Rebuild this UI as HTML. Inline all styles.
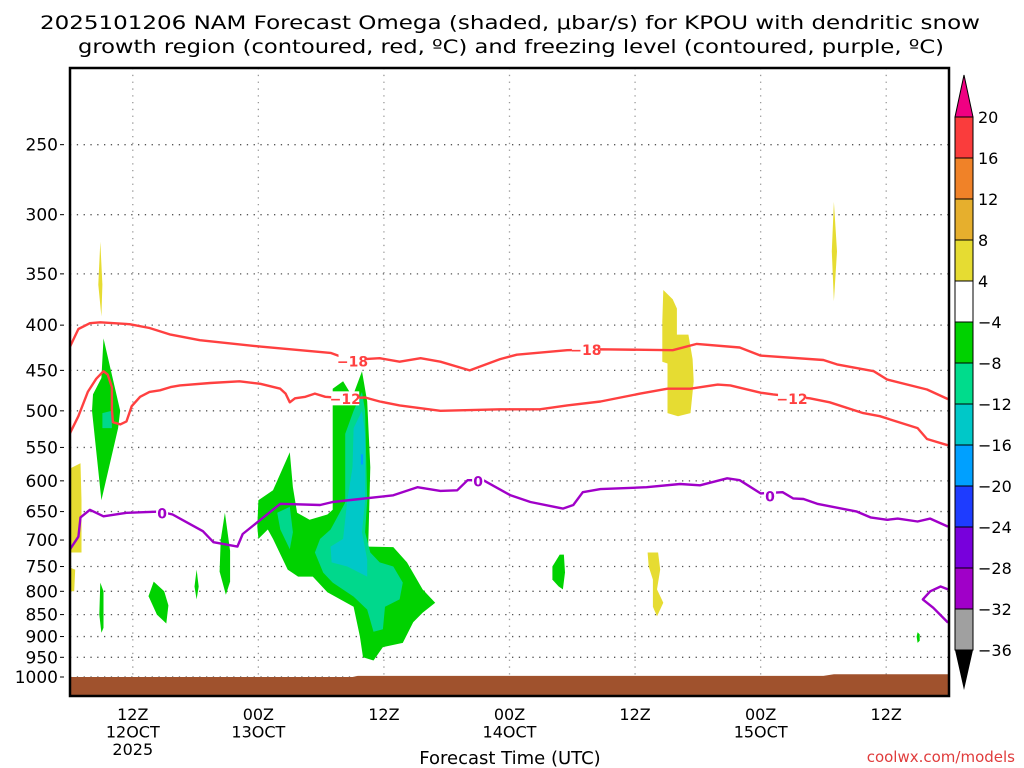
<!DOCTYPE html>
<html><head><meta charset="utf-8"><title>NAM Omega KPOU</title>
<style>html,body{margin:0;padding:0;background:#fff;}svg{display:block;}text{font-family:"DejaVu Sans","Liberation Sans",sans-serif;}</style>
</head><body>
<svg id="chart" xmlns="http://www.w3.org/2000/svg" width="1024" height="768" viewBox="0 0 1024 768">
<rect x="0" y="0" width="1024" height="768" fill="#fff"/>
<text x="510" y="29" font-size="19" text-anchor="middle" textLength="940" lengthAdjust="spacingAndGlyphs">2025101206 NAM Forecast Omega (shaded, μbar/s) for KPOU with dendritic snow</text>
<text x="511" y="53" font-size="19" text-anchor="middle" textLength="866" lengthAdjust="spacingAndGlyphs">growth region (contoured, red, ºC) and freezing level (contoured, purple, ºC)</text>
<g id="grid"></g>
<g id="ground"></g>
<g id="shading"></g>
<g id="contours"></g>
<g id="labels"></g>
<rect x="70" y="68" width="879" height="628" fill="none" stroke="#000" stroke-width="2.5"/>
<g id="yticks"></g>
<g id="xticks"></g>
<text x="510" y="764" font-size="18" text-anchor="middle">Forecast Time (UTC)</text>
<text x="1015" y="762" font-size="15" text-anchor="end" fill="#e03c3c">coolwx.com/models</text>
<g id="colorbar"></g>
</svg>
<script>
// ---- axis data ----
const pressureTicks = [250,300,350,400,450,500,550,600,650,700,750,800,850,900,950,1000];
const timeTickHours = [6,18,30,42,54,66,78];
const timeTickLine1 = ["12Z","00Z","12Z","00Z","12Z","00Z","12Z"];
const timeTickLine2 = ["12OCT","13OCT","","14OCT","","15OCT",""];
const timeTickLine3 = ["2025","","","","","",""];
// ---- contour data [hour, hPa] ----
const contourMinus18 = [[0,423],[0.8,404],[1.9,398],[2.9,397],[5.7,399],[7.6,403],[9.6,410],[12.4,416],[18.2,423],[22,427],[24.9,430],[27.0,439],[28.2,437],[29.6,436],[31.5,440],[33.5,436],[35.4,440],[38.2,450],[41.1,437],[42.7,432],[47.5,427],[50.7,426],[57.6,427],[59.9,420],[64.0,424],[66.0,433],[72.0,438],[73.3,443],[76.8,451],[78.1,461],[81.9,473],[83.9,485]];
const contourMinus12 = [[0,530],[0.8,507],[1.7,476],[2.5,460],[3.2,451],[3.6,455],[4.0,470],[4.0,498],[4.1,515],[4.8,518],[5.4,514],[5.9,494],[6.7,482],[7.6,476],[8.6,474],[9.6,470],[10.5,468],[13.4,465],[16.2,463],[18.2,466],[20.1,472],[20.6,478],[21.0,489],[21.5,484],[22.5,482],[23.4,478],[24.4,482],[26.3,484],[28.2,483],[29.6,488],[31.5,493],[35.4,500],[41.1,498],[44.9,498],[47.5,493],[50.7,488],[54.5,478],[57.1,472],[59.3,472],[61.9,467],[63.1,468],[66.0,477],[67.2,479],[70.7,484],[72.6,489],[75.8,503],[77.4,507],[81.0,523],[81.9,538],[83.9,547]];
const contourZero = [[0,717],[0.8,694],[1.0,660],[1.9,647],[3.2,658],[5.4,652],[8.6,650],[9.8,655],[11.2,669],[12.7,684],[13.7,704],[16.0,712],[16.5,689],[18.2,664],[20.1,637],[23.9,639],[25.1,634],[27.7,629],[30.9,623],[33.2,610],[35.4,616],[37.0,615],[38.0,599],[39.5,599],[42.1,623],[44.0,634],[47.1,645],[48.1,639],[49.0,618],[50.7,613],[53.8,611],[55.1,610],[58.3,605],[60.2,607],[62.8,596],[64.0,599],[66.0,620],[68.1,618],[69.1,628],[70.1,629],[71.4,637],[75.2,650],[76.5,660],[78.1,664],[79.1,662],[81.0,667],[82.2,662],[83.9,676]];
const contourZeroLow = [[83.9,796],[83.2,790],[82.2,800],[81.5,817],[82.5,835],[83.9,868]];
const labelText = ["-18","-18","-12","-12","0","0","0"];
const labelHour = [27.0,49.3,26.3,69.0,8.8,39.0,66.9];
const labelPress = [439,426,484,484,652,600,624];
const labelColor = ["#ff4040","#ff4040","#ff4040","#ff4040","#a000c8","#a000c8","#a000c8"];
// ---- omega shaded regions [hour, hPa]; level = omega bin ----
const blobLevels = ["up4","up4","up4","up4","up4","up4","dn4","dn8","dn4","dn4","dn4","dn4","dn4","dn8","dn8","dn12","dn16","dn4","dn4"];
const blobShapes = [
 [[0,581],[1.0,573],[1.1,631],[1.1,723],[0,723]],
 [[0,752],[0.5,756],[0.4,800],[0,800]],
 [[2.9,322],[3.1,360],[3.0,391],[2.7,360]],
 [[56.7,365],[57.6,374],[58.0,383],[58.0,410],[59.1,410],[59.5,437],[59.6,463],[59.3,503],[58.1,507],[57.1,503],[57.1,442],[56.6,440],[56.6,396]],
 [[55.2,723],[56.2,723],[56.4,756],[56.1,796],[56.7,824],[56.1,854],[55.7,833],[55.7,776],[55.3,750]],
 [[73.0,290],[73.3,330],[73.0,376],[72.8,330]],
 [[3.2,414],[4.8,500],[4.6,523],[3.0,631],[2.1,500],[2.2,479],[3.0,459]],
 [[3.1,503],[4.0,500],[4.0,523],[3.1,523]],
 [[2.9,782],[3.2,800],[3.2,880],[3.0,891],[2.8,850]],
 [[8.0,780],[9.0,800],[9.4,830],[9.2,870],[8.3,850],[7.5,810]],
 [[12.1,756],[12.3,790],[12.1,817],[11.9,790]],
 [[14.8,652],[15.3,720],[15.3,780],[14.9,807],[14.3,760],[14.4,700]],
 [[18.0,631],[19.4,615],[21.0,557],[21.3,610],[21.7,652],[22.9,664],[24.6,655],[25.1,647],[25.1,472],[26.1,463],[27.0,482],[27.9,451],[28.4,488],[28.7,579],[28.5,712],[30.9,713],[32.2,742],[33.7,796],[34.9,824],[33.7,846],[32.8,867],[31.8,915],[29.9,925],[29.0,958],[28.0,950],[27.7,900],[27.1,833],[24.6,802],[23.2,770],[21.8,770],[20.8,756],[19.4,698],[18.9,681],[18.0,698],[17.9,676]],
 [[19.8,652],[21.0,642],[21.3,686],[21.0,717],[20.1,681]],
 [[26.3,531],[27.1,500],[27.9,476],[28.2,500],[28.4,631],[28.2,686],[28.7,723],[29.6,742],[30.9,750],[31.8,782],[31.5,817],[30.1,833],[29.9,883],[29.0,889],[28.4,839],[27.1,811],[25.1,782],[24.2,762],[23.4,723],[23.9,698],[24.9,681],[26.3,635],[26.3,588]],
 [[27.1,523],[27.9,500],[28.2,531],[28.2,631],[27.9,686],[28.4,737],[28.4,770],[26.5,750],[25.0,742],[24.9,712],[26.1,698],[26.5,631],[27.0,579]],
 [[27.8,560],[28.0,560],[28.0,575],[27.8,575]],
 [[46.8,727],[47.2,727],[47.3,762],[47.1,796],[46.7,790],[46.1,776],[46.1,750]],
 [[81.0,890],[81.2,895],[81.2,910],[81.0,915],[80.9,900]]
];
const surfaceHours = [0,27,27.5,72,73,84];
const surfacePress = [1000,1000,997,997,993,993];
// ---- colorbar ----
const cbLevels = ["20","16","12","8","4","-4","-8","-12","-16","-20","-24","-28","-32","-36"];
const cbColors = ["#fa3c3c","#f08228","#e6af2d","#e6dc32","#ffffff","#00d200","#00dc8c","#00c8c8","#00a0ff","#1e3cff","#7800dc","#a000c8","#a0a0a0"];
const binColors = {up4:"#e6dc32",dn4:"#00d200",dn8:"#00d88c",dn12:"#00c8c8",dn16:"#00a0ff"};

const NS="http://www.w3.org/2000/svg";
const X0=70, X1=949, HOURS=84, Y1000=677, K=384;
function X(h){return X0+h*(X1-X0)/HOURS;}
function Y(p){return Y1000-K*Math.log(1000/p);}
function mk(tag,attrs,parent){const e=document.createElementNS(NS,tag);for(const k in attrs)e.setAttribute(k,attrs[k]);parent.appendChild(e);return e;}
function pts(arr){return arr.map(d=>X(d[0]).toFixed(1)+","+Y(d[1]).toFixed(1)).join(" ");}

const grid=document.getElementById('grid');
pressureTicks.forEach(p=>{
  const l=mk('line',{x1:X0,x2:X1,y1:Y(p),y2:Y(p),stroke:'#555','stroke-width':1.3,'stroke-dasharray':'1.3,5.5'},grid);
  
  
});
timeTickHours.forEach(h=>{
  const l=mk('line',{x1:X(h),x2:X(h),y1:68,y2:696,stroke:'#999','stroke-width':1.3,'stroke-dasharray':'1.3,5.5'},grid);
  
  
});

const ground=document.getElementById('ground');
let gpts=surfaceHours.map((h,i)=>X(h)+","+Y(surfacePress[i])).join(" ")+" "+X1+",696 "+X0+",696";
const gp=mk('polygon',{points:gpts,fill:'#a0522d'},ground);



const shading=document.getElementById('shading');
blobShapes.forEach((s,i)=>{
  const poly=mk('polygon',{points:pts(s),fill:binColors[blobLevels[i]]},shading);
  
  
});

const contours=document.getElementById('contours');
[[contourMinus18,'#ff4040','contour-minus-18'],[contourMinus12,'#ff4040','contour-minus-12'],[contourZero,'#a000c8','freezing-level-contour'],[contourZeroLow,'#a000c8','freezing-level-contour-low']].forEach(c=>{
  const pl=mk('polyline',{points:pts(c[0]),fill:'none',stroke:c[1],'stroke-width':2.4,'stroke-linejoin':'round'},contours);
  
  
});

const labels=document.getElementById('labels');
labelText.forEach((t,i)=>{
  const x=X(labelHour[i]), y=Y(labelPress[i]);
  const w=t.length*8+4;
  const r=mk('rect',{x:x-w/2,y:y-7,width:w,height:14,fill:'#fff'},labels);
  
  
  const tx=mk('text',{x:x,y:y+5.5,'font-size':14,'font-weight':'bold','text-anchor':'middle',fill:labelColor[i]},labels);
  tx.textContent=t.replace('-','\u2212');
  
  
});

const yt=document.getElementById('yticks');
pressureTicks.forEach(p=>{
  const t=mk('text',{x:58,y:Y(p)+6,'font-size':17,'text-anchor':'end'},yt);
  t.textContent=p;
  
  
  const tk=mk('line',{x1:60,x2:64,y1:Y(p),y2:Y(p),stroke:'#000','stroke-width':1},yt);
  
  
});
const xt=document.getElementById('xticks');
timeTickHours.forEach((h,i)=>{
  [timeTickLine1[i],timeTickLine2[i],timeTickLine3[i]].forEach((s,j)=>{
    if(!s)return;
    const t=mk('text',{x:X(h),y:720+j*17.5,'font-size':16,'text-anchor':'middle'},xt);
    t.textContent=s;
    
    
  });
});

const cb=document.getElementById('colorbar');
const cbx=955, cbw=18, cbTop=117, cbStep=(650-117)/13;
const up=mk('polygon',{points:`${cbx},${cbTop} ${cbx+cbw},${cbTop} ${cbx+cbw/2},75`,fill:'#f00082',stroke:'#000','stroke-width':1},cb);


cbColors.forEach((c,i)=>{
  const r=mk('rect',{x:cbx,y:cbTop+i*cbStep,width:cbw,height:cbStep,fill:c,stroke:'#000','stroke-width':1},cb);
  
  
});
const dn=mk('polygon',{points:`${cbx},650 ${cbx+cbw},650 ${cbx+cbw/2},690`,fill:'#000'},cb);


cbLevels.forEach((l,i)=>{
  const t=mk('text',{x:978,y:cbTop+i*cbStep+6,'font-size':16},cb);
  t.textContent=l.replace('-','\u2212');
  
  
});
</script>
</body></html>
